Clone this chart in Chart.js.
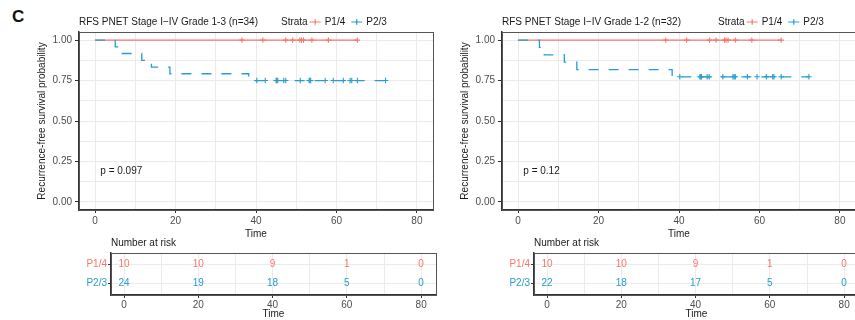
<!DOCTYPE html>
<html>
<head>
<meta charset="utf-8">
<script src="https://cdn.jsdelivr.net/npm/chart.js@4.4.1/dist/chart.umd.min.js"></script>
<style>
  body { margin: 0; background: #fff; }
  #wrap { position: relative; width: 855px; height: 320px; overflow: hidden; }
  #wrap canvas { position: absolute; }
  #tag { position: absolute; left: 12px; top: 8px; font: bold 17px/17px "Liberation Sans", Arial, sans-serif; color: #111; }
</style>
</head>
<body>
<div id="wrap">
  <div id="tag">C</div>
  <canvas id="km1" width="440" height="240" style="left:0;top:0"></canvas>
  <canvas id="risk1" width="440" height="84" style="left:0;top:236px"></canvas>
  <canvas id="km2" width="440" height="240" style="left:423px;top:0"></canvas>
  <canvas id="risk2" width="440" height="84" style="left:423px;top:236px"></canvas>
</div>
<script>
// ---- data ----
const strata = ["P1/4", "P2/3"];
const timeTicks = [0, 20, 40, 60, 80];
const timeGrid = [0, 10, 20, 30, 40, 50, 60, 70, 80];
const survTicks = [0, 0.25, 0.5, 0.75, 1];
const survGrid = [0, 0.125, 0.25, 0.375, 0.5, 0.625, 0.75, 0.875, 1];

// Grade 1-3
const g13Title = "RFS PNET Stage I\u2212IV Grade 1-3 (n=34)";
const g13P14Time = [0, 65.2];
const g13P14Surv = [1, 1];
const g13P14Cens = [36.5, 41.7, 47.4, 49.1, 50.9, 51.3, 51.8, 53.9, 58.0, 65.2];
const g13P23Time = [0, 5.0, 6.5, 11.6, 14.0, 18.6, 38.2, 72.2];
const g13P23Surv = [1, 0.958, 0.917, 0.875, 0.833, 0.792, 0.75, 0.75];
const g13P23Cens = [40.2, 42.3, 45.0, 45.2, 45.4, 46.9, 47.4, 51.0, 53.2, 53.4, 53.6, 57.2, 59.2, 61.7, 63.4, 63.8, 65.2, 72.2];
const g13RiskP14 = [10, 10, 9, 1, 0];
const g13RiskP23 = [24, 19, 18, 5, 0];
const g13Pval = "p = 0.097";

// Grade 1-2
const g12Title = "RFS PNET Stage I\u2212IV Grade 1-2 (n=32)";
const g12P14Time = [0, 65.4];
const g12P14Surv = [1, 1];
const g12P14Cens = [36.7, 41.9, 47.6, 49.2, 51.3, 51.7, 52.2, 54.0, 58.1, 65.4];
const g12P23Time = [0, 5.3, 6.5, 11.5, 14.6, 38.3, 72.3];
const g12P23Surv = [1, 0.955, 0.909, 0.864, 0.818, 0.773, 0.773];
const g12P23Cens = [40.2, 45.2, 45.4, 45.6, 47.0, 47.5, 50.9, 53.4, 53.7, 54.0, 57.0, 59.4, 61.7, 63.3, 63.6, 65.4, 72.3];
const g12RiskP14 = [10, 10, 9, 1, 0];
const g12RiskP23 = [22, 18, 17, 5, 0];
const g12Pval = "p = 0.12";

// ---- style ----
const PINK = "#F8766D";
const BLUE = "#2A9BD0";
const TXT = "#1a1a1a";
const TICK = "#4d4d4d";
const GRID = "#ebebeb";
const AXIS = "#333333";
const FONT = "'Liberation Sans', Arial, sans-serif";

Chart.defaults.font.family = FONT;
Chart.defaults.font.size = 10;
Chart.defaults.animation = false;

function curve(times, surv) {
  return times.map((t, i) => ({ x: t, y: surv[i] }));
}
function survAt(times, surv, t) {
  let s = surv[0];
  times.forEach((ti, i) => { if (ti <= t) s = surv[i]; });
  return s;
}
function marks(times, surv, cens) {
  return cens.map(t => ({ x: t, y: survAt(times, surv, t) }));
}
function tickMark(list) {
  return ctx => (ctx.tick && list.includes(ctx.tick.value)) ? AXIS : "rgba(0,0,0,0)";
}

// box round the panel
const frame = {
  id: "frame",
  afterDraw(chart) {
    const a = chart.chartArea, c = chart.ctx;
    c.save();
    c.strokeStyle = "#555";
    c.lineWidth = 1;
    c.strokeRect(Math.round(a.left) + 0.5, Math.round(a.top) + 0.5, Math.round(a.right - a.left), Math.round(a.bottom - a.top));
    c.restore();
  }
};

// legend + p value
const kmExtras = {
  id: "kmExtras",
  afterDraw(chart, args, o) {
    const c = chart.ctx, xs = chart.scales.x, ys = chart.scales.y;
    c.save();
    c.font = "10px " + FONT;
    c.textBaseline = "middle";
    c.textAlign = "left";
    c.fillStyle = TXT;
    c.fillText(o.pText, xs.getPixelForValue(o.pAt[0]), ys.getPixelForValue(o.pAt[1]));

    let x = o.legendX;
    const y = o.legendY;
    c.fillText("Strata", x, y);
    x += c.measureText("Strata").width + 2;
    o.keys.forEach(k => {
      c.strokeStyle = k.color;
      c.lineWidth = 1.2;
      c.beginPath();
      if (k.dash) {
        c.moveTo(x, y); c.lineTo(x + 3.5, y);
        c.moveTo(x + 7.5, y); c.lineTo(x + 11, y);
      } else {
        c.moveTo(x, y); c.lineTo(x + 11, y);
      }
      c.moveTo(x + 5.5, y - 2.7); c.lineTo(x + 5.5, y + 2.7);
      c.moveTo(x + 2.8, y); c.lineTo(x + 8.2, y);
      c.stroke();
      x += 15;
      c.fillStyle = TXT;
      c.fillText(k.text, x, y);
      x += c.measureText(k.text).width + 6;
    });
    c.restore();
  }
};

// numbers in the risk table
const riskText = {
  id: "riskText",
  afterDatasetsDraw(chart) {
    const c = chart.ctx;
    c.save();
    c.font = "10px " + FONT;
    c.textAlign = "center";
    c.textBaseline = "middle";
    chart.data.datasets.forEach((ds, di) => {
      const meta = chart.getDatasetMeta(di);
      c.fillStyle = ds.textColor;
      meta.data.forEach((pt, i) => c.fillText(String(ds.counts[i]), pt.x, pt.y));
    });
    c.restore();
  }
};

function drawKm(id, title, t14, s14, c14, t23, s23, c23, pText, legendX) {
  new Chart(document.getElementById(id), {
    type: "scatter",
    data: {
      datasets: [
        { label: strata[1], type: "line", data: curve(t23, s23), borderColor: BLUE, borderWidth: 1.3,
          borderDash: [10, 10], stepped: true, pointRadius: 0, fill: false, order: 0 },
        { label: strata[1] + " censored", data: marks(t23, s23, c23), pointStyle: "cross", pointRadius: 2.7,
          borderColor: BLUE, backgroundColor: BLUE, borderWidth: 1.1, order: 0 },
        { label: strata[0], type: "line", data: curve(t14, s14), borderColor: PINK, borderWidth: 1.3,
          stepped: true, pointRadius: 0, fill: false, order: 1 },
        { label: strata[0] + " censored", data: marks(t14, s14, c14), pointStyle: "cross", pointRadius: 2.7,
          borderColor: PINK, backgroundColor: PINK, borderWidth: 1.1, order: 1 }
      ]
    },
    options: {
      responsive: false,
      animation: false,
      layout: { padding: { left: 36, right: 7, top: 0, bottom: 0 } },
      plugins: {
        legend: { display: false },
        tooltip: { enabled: false },
        title: { display: true, text: title, align: "start", fullSize: false, color: TXT,
                 font: { size: 10, weight: "normal" }, padding: { top: 16, bottom: 4 } },
        kmExtras: {
          pText: pText, pAt: [1.3, 0.19], legendX: legendX, legendY: 22,
          keys: [{ text: strata[0], color: PINK, dash: false }, { text: strata[1], color: BLUE, dash: true }]
        }
      },
      scales: {
        x: {
          type: "linear", min: -4, max: 84,
          afterBuildTicks: s => { s.ticks = timeGrid.map(v => ({ value: v })); },
          afterFit: s => { s.height = 30; },
          ticks: { autoSkip: false, maxRotation: 0, color: TICK, padding: 2,
                   callback: v => timeTicks.includes(v) ? String(v) : "" },
          grid: { color: GRID, tickLength: 3, tickColor: tickMark(timeTicks) },
          border: { color: AXIS, width: 1.5 },
          title: { display: true, text: "Time", color: TXT, padding: 0 }
        },
        y: {
          min: -0.05, max: 1.05,
          afterBuildTicks: s => { s.ticks = survGrid.map(v => ({ value: v })); },
          afterFit: s => { s.width = 43; },
          ticks: { autoSkip: false, color: TICK, padding: 3,
                   callback: v => survTicks.includes(v) ? v.toFixed(2) : "" },
          grid: { color: GRID, tickLength: 4, tickColor: tickMark(survTicks) },
          border: { color: AXIS, width: 1.5 },
          title: { display: true, text: "Recurrence-free survival probability", color: TXT, padding: 0 }
        }
      }
    },
    plugins: [frame, kmExtras]
  });
}

function drawRisk(id, n14, n23) {
  new Chart(document.getElementById(id), {
    type: "scatter",
    data: {
      datasets: [
        { label: strata[0], data: timeTicks.map(t => ({ x: t, y: 1 })), counts: n14, textColor: PINK, pointRadius: 0 },
        { label: strata[1], data: timeTicks.map(t => ({ x: t, y: 2 })), counts: n23, textColor: BLUE, pointRadius: 0 }
      ]
    },
    options: {
      responsive: false,
      animation: false,
      layout: { padding: { left: 40, right: 4, top: 0, bottom: 0 } },
      plugins: {
        legend: { display: false },
        tooltip: { enabled: false },
        title: { display: true, text: "Number at risk", align: "start", fullSize: false, color: TXT,
                 font: { size: 10, weight: "normal" }, padding: { top: 1, bottom: 4 } }
      },
      scales: {
        x: {
          type: "linear", min: -3.5, max: 84,
          afterBuildTicks: s => { s.ticks = timeGrid.map(v => ({ value: v })); },
          afterFit: s => { s.height = 25; },
          ticks: { autoSkip: false, maxRotation: 0, color: TICK, padding: 1,
                   callback: v => timeTicks.includes(v) ? String(v) : "" },
          grid: { color: GRID, tickLength: 3, tickColor: tickMark(timeTicks) },
          border: { color: AXIS, width: 1.5 },
          title: { display: true, text: "Time", color: TXT, padding: 0 }
        },
        y: {
          min: 0.4, max: 2.6, reverse: true,
          afterBuildTicks: s => { s.ticks = [{ value: 1 }, { value: 2 }]; },
          afterFit: s => { s.width = 71; },
          ticks: { autoSkip: false, padding: 1, font: { size: 10 },
                   color: ctx => [PINK, BLUE][ctx.index],
                   callback: v => strata[v - 1] },
          grid: { color: GRID, tickLength: 3, tickColor: AXIS },
          border: { color: AXIS, width: 1.5 }
        }
      }
    },
    plugins: [frame, riskText]
  });
}

drawKm("km1", g13Title, g13P14Time, g13P14Surv, g13P14Cens, g13P23Time, g13P23Surv, g13P23Cens, g13Pval, 281);
drawRisk("risk1", g13RiskP14, g13RiskP23);
drawKm("km2", g12Title, g12P14Time, g12P14Surv, g12P14Cens, g12P23Time, g12P23Surv, g12P23Cens, g12Pval, 295);
drawRisk("risk2", g12RiskP14, g12RiskP23);
</script>
</body>
</html>
